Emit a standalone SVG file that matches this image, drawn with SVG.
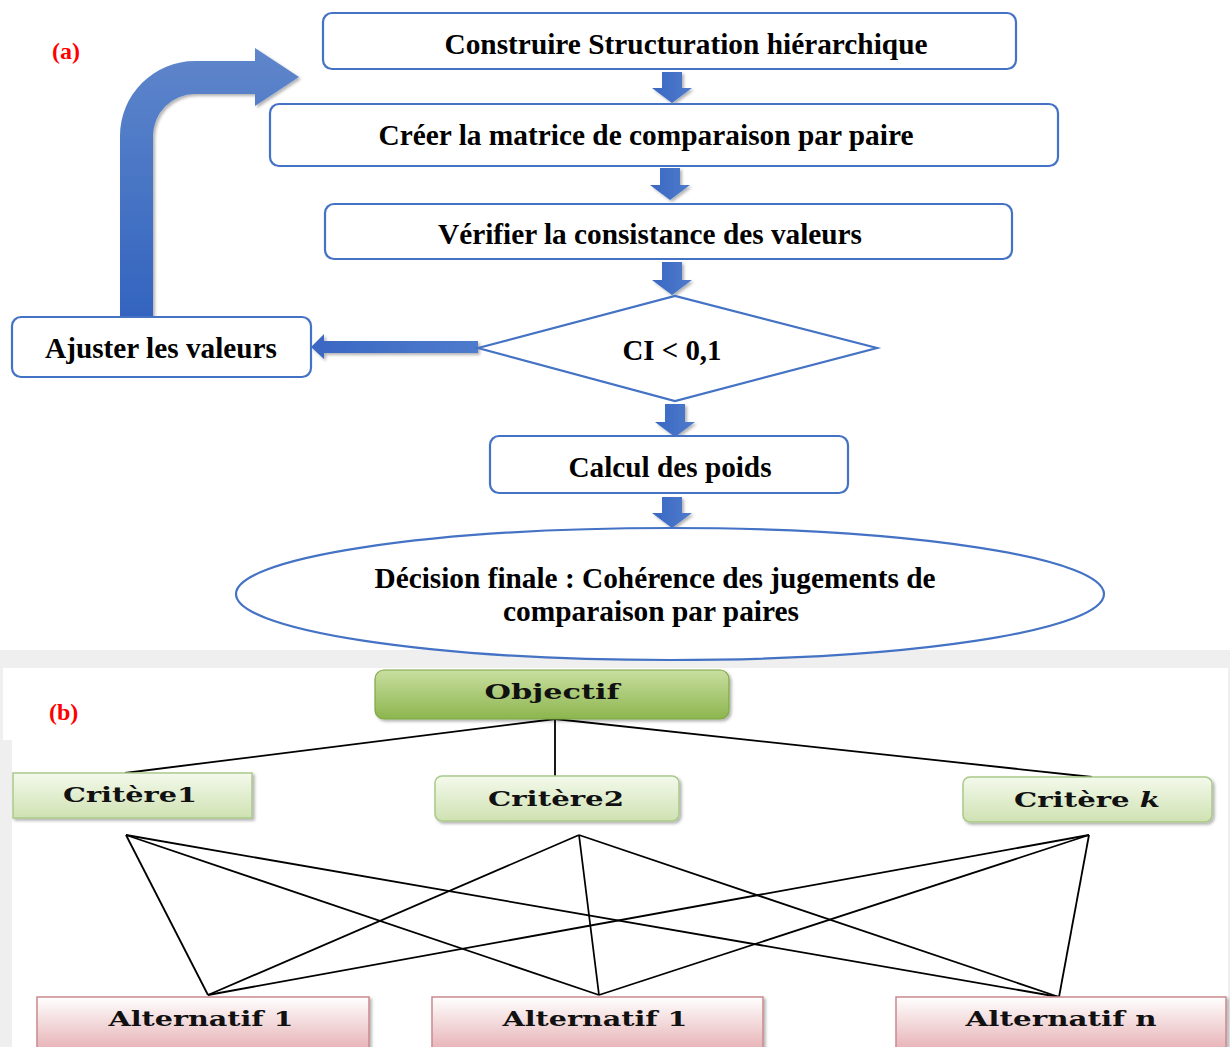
<svg xmlns="http://www.w3.org/2000/svg" width="1230" height="1047" viewBox="0 0 1230 1047">
<style>
.box{fill:#fff;stroke:#4472C4;stroke-width:2.2}
.t{font-family:"Liberation Serif","Times New Roman",serif;font-weight:bold;font-size:30px;fill:#000;text-anchor:middle}
.lbl{font-family:"Liberation Serif","Times New Roman",serif;font-weight:bold;font-size:24px;fill:#ff0000}
.tb{font-family:"DejaVu Serif",serif;font-weight:bold;font-size:20px;fill:#111;text-anchor:middle}
.ln{stroke:#000;stroke-width:1.8;fill:none}
.arr{fill:url(#gArr);filter:url(#sh)}
</style>
<defs>
<linearGradient id="gArr" x1="0" y1="0" x2="1" y2="0">
<stop offset="0" stop-color="#3A67C2"/><stop offset="1" stop-color="#4E7BCC"/>
</linearGradient>
<linearGradient id="gBig" x1="0" y1="0" x2="0" y2="1">
<stop offset="0" stop-color="#5F86CB"/><stop offset="1" stop-color="#3364BF"/>
</linearGradient>
<linearGradient id="gObj" x1="0" y1="0" x2="0" y2="1">
<stop offset="0" stop-color="#C9DFA0"/><stop offset="1" stop-color="#8CB54E"/>
</linearGradient>
<linearGradient id="gCrit" x1="0" y1="0" x2="0" y2="1">
<stop offset="0" stop-color="#F4F9EC"/><stop offset="1" stop-color="#CFE2B2"/>
</linearGradient>
<linearGradient id="gAlt" x1="0" y1="0" x2="0" y2="1">
<stop offset="0" stop-color="#FFFFFF"/><stop offset="1" stop-color="#E5ADB1"/>
</linearGradient>
<filter id="sh" x="-20%" y="-20%" width="150%" height="150%">
<feDropShadow dx="2" dy="2" stdDeviation="1.5" flood-color="#000" flood-opacity="0.3"/>
</filter>
</defs>

<!-- panel (b) background -->
<rect x="0" y="650" width="1230" height="397" fill="#EFEFEF"/>
<rect x="12" y="668" width="1216" height="379" fill="#FFFFFF"/>
<rect x="3" y="668" width="120" height="72" fill="#FFFFFF"/>

<text class="lbl" x="52" y="59">(a)</text>
<text class="lbl" x="49" y="720">(b)</text>

<!-- connectors -->
<g id="connectors">
<path class="arr" d="M662,72 H682 V88 H692 L672,103 L652,88 H662 Z"/>
<path class="arr" d="M660,168 H680 V185 H690 L670,200 L650,185 H660 Z"/>
<path class="arr" d="M662,262 H682 V280 H692 L672,295 L652,280 H662 Z"/>
<path class="arr" d="M665,404 H685 V422 H695 L675,437 L655,422 H665 Z"/>
<path class="arr" d="M662,497 H682 V513 H692 L672,528 L652,513 H662 Z"/>
<path class="arr" d="M478,341 V353 H324 V359 L311,347 L324,334 V341 Z"/>
<path d="M120,317 V136 A75,75 0 0 1 195,61 H255 V48 L299,77 L255,106 V94 H195 A42,42 0 0 0 153,136 V317 Z" fill="url(#gBig)" filter="url(#sh)"/>
<line class="ln" x1="555" y1="719" x2="125" y2="773"/>
<line class="ln" x1="555" y1="719" x2="555" y2="777"/>
<line class="ln" x1="555" y1="719" x2="1092" y2="777"/>
<line class="ln" x1="126" y1="835" x2="208" y2="995"/>
<line class="ln" x1="126" y1="835" x2="599" y2="995"/>
<line class="ln" x1="126" y1="835" x2="1059" y2="997"/>
<line class="ln" x1="579" y1="835" x2="208" y2="995"/>
<line class="ln" x1="579" y1="835" x2="599" y2="995"/>
<line class="ln" x1="579" y1="835" x2="1059" y2="997"/>
<line class="ln" x1="1089" y1="835" x2="208" y2="995"/>
<line class="ln" x1="1089" y1="835" x2="599" y2="995"/>
<line class="ln" x1="1089" y1="835" x2="1059" y2="997"/>
</g>

<!-- panel (a) nodes -->
<g id="n-construire">
<rect class="box" x="323" y="13" width="693" height="56" rx="9"/>
<text class="t" x="686" y="54" textLength="483" lengthAdjust="spacingAndGlyphs">Construire Structuration hiérarchique</text>
</g>
<g id="n-creer">
<rect class="box" x="270" y="104" width="788" height="62" rx="9"/>
<text class="t" x="646" y="145" textLength="535" lengthAdjust="spacingAndGlyphs">Créer la matrice de comparaison par paire</text>
</g>
<g id="n-verifier">
<rect class="box" x="325" y="204" width="687" height="55" rx="9"/>
<text class="t" x="650" y="244" textLength="424" lengthAdjust="spacingAndGlyphs">Vérifier la consistance des valeurs</text>
</g>
<g id="n-ci">
<polygon points="478,348 675,296 877,348 675,401" fill="#fff" stroke="#4472C4" stroke-width="2.2"/>
<text class="t" x="672" y="360" textLength="99" lengthAdjust="spacingAndGlyphs">CI &lt; 0,1</text>
</g>
<g id="n-ajuster">
<rect class="box" x="12" y="317" width="299" height="60" rx="9"/>
<text class="t" x="161" y="358" textLength="232" lengthAdjust="spacingAndGlyphs">Ajuster les valeurs</text>
</g>
<g id="n-calcul">
<rect class="box" x="490" y="436" width="358" height="57" rx="9"/>
<text class="t" x="670" y="477" textLength="203" lengthAdjust="spacingAndGlyphs">Calcul des poids</text>
</g>
<g id="n-decision">
<ellipse cx="670" cy="594" rx="434" ry="66" fill="#fff" stroke="#4472C4" stroke-width="2.2"/>
<text class="t" x="655" y="588" textLength="561" lengthAdjust="spacingAndGlyphs">Décision finale : Cohérence des jugements de</text>
<text class="t" x="651" y="621" textLength="296" lengthAdjust="spacingAndGlyphs">comparaison par paires</text>
</g>

<!-- panel (b) nodes -->
<g id="n-objectif">
<rect x="375" y="670" width="354" height="49" rx="9" fill="url(#gObj)" stroke="#7FA844" stroke-width="1.2" filter="url(#sh)"/>
<text class="tb" x="552" y="699" textLength="135" lengthAdjust="spacingAndGlyphs">Objectif</text>
</g>
<g id="n-critere1">
<rect x="13" y="773" width="239" height="45" fill="url(#gCrit)" stroke="#A9C98A" stroke-width="1.5" filter="url(#sh)"/>
<text class="tb" x="130" y="802" textLength="134" lengthAdjust="spacingAndGlyphs">Critère1</text>
</g>
<g id="n-critere2">
<rect x="435" y="776" width="244" height="45" rx="7" fill="url(#gCrit)" stroke="#A9C98A" stroke-width="1.5" filter="url(#sh)"/>
<text class="tb" x="556" y="806" textLength="136" lengthAdjust="spacingAndGlyphs">Critère2</text>
</g>
<g id="n-criterek">
<rect x="963" y="777" width="249" height="45" rx="7" fill="url(#gCrit)" stroke="#A9C98A" stroke-width="1.5" filter="url(#sh)"/>
<text class="tb" x="1087" y="807" textLength="146" lengthAdjust="spacingAndGlyphs">Critère <tspan font-style="italic">k</tspan></text>
</g>
<g id="n-alt1">
<rect x="37" y="997" width="332" height="56" fill="url(#gAlt)" stroke="#C98A8E" stroke-width="1.5" filter="url(#sh)"/>
<text class="tb" x="201" y="1026" textLength="185" lengthAdjust="spacingAndGlyphs">Alternatif 1</text>
</g>
<g id="n-alt2">
<rect x="432" y="997" width="331" height="56" fill="url(#gAlt)" stroke="#C98A8E" stroke-width="1.5" filter="url(#sh)"/>
<text class="tb" x="595" y="1026" textLength="185" lengthAdjust="spacingAndGlyphs">Alternatif 1</text>
</g>
<g id="n-altn">
<rect x="896" y="997" width="330" height="56" fill="url(#gAlt)" stroke="#C98A8E" stroke-width="1.5" filter="url(#sh)"/>
<text class="tb" x="1061" y="1026" textLength="191" lengthAdjust="spacingAndGlyphs">Alternatif n</text>
</g>
</svg>
